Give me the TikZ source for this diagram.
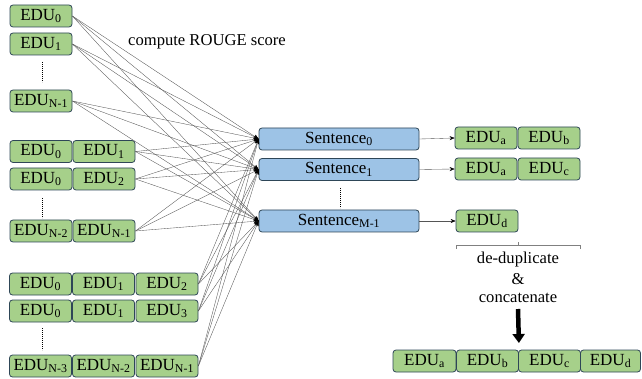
\documentclass[tikz,border=0pt]{standalone}
\usepackage{fontspec}
\setmainfont{Liberation Serif}
\usetikzlibrary{arrows.meta}
\definecolor{edufill}{HTML}{A6D08A}
\definecolor{sentfill}{HTML}{9DC3E6}
\definecolor{boxline}{HTML}{2E4657}
\definecolor{conncol}{HTML}{555555}
\tikzset{
  basebox/.style={draw=boxline, line width=0.8pt, rounded corners=3pt, inner sep=0pt,
    minimum height=22pt, font=\fontsize{17}{17}\selectfont},
  edu/.style={basebox, fill=edufill, minimum width=62pt},
  sent/.style={basebox, fill=sentfill, minimum width=160pt},
  conn/.style={draw=conncol, line width=0.35pt, -{Stealth[length=5pt,width=4pt,black]}},
  vdots/.style={draw=black, line width=0.5pt, dash pattern=on 0.6pt off 1.4pt},
  lbl/.style={font=\fontsize{16.6}{17}\selectfont, inner sep=0pt}
}
\newcommand{\E}[1]{EDU\textsubscript{#1}}
\begin{document}
\begin{tikzpicture}[x=1pt,y=-1pt]
\useasboundingbox (0,0) rectangle (642,379);
% single EDUs
\node[edu] (s0) at (41,16) {\E{0}};
\node[edu] (s1) at (41,44) {\E{1}};
\node[edu] (s2) at (41,101) {\E{N-1}};
\draw[vdots] (42,62) -- (42,82);
% pairs
\node[edu] (p0a) at (41,151.5) {\E{0}};
\node[edu] (p0b) at (104,151.5) {\E{1}};
\node[edu] (p1a) at (41,179) {\E{0}};
\node[edu] (p1b) at (104,179) {\E{2}};
\draw[vdots] (42,198) -- (42,218);
\node[edu] (p2a) at (41,231) {\E{N-2}};
\node[edu] (p2b) at (104,231) {\E{N-1}};
% triples
\node[edu] (t0a) at (40.5,284) {\E{0}};
\node[edu] (t0b) at (103.5,284) {\E{1}};
\node[edu] (t0c) at (167,284) {\E{2}};
\node[edu] (t1a) at (40.5,311) {\E{0}};
\node[edu] (t1b) at (103.5,311) {\E{1}};
\node[edu] (t1c) at (167,311) {\E{3}};
\draw[vdots] (42,328) -- (42,350);
\node[edu] (t2a) at (40.5,366) {\E{N-3}};
\node[edu] (t2b) at (103.5,366) {\E{N-2}};
\node[edu] (t2c) at (167,366) {\E{N-1}};
% label
\node[lbl] (rouge) at (207,42) {compute ROUGE score};
% sentences
\node[sent] (m0) at (339,139) {Sentence\textsubscript{0}};
\node[sent] (m1) at (339,169.5) {Sentence\textsubscript{1}};
\draw[vdots] (340,188) -- (340,208);
\node[sent] (m2) at (339,221) {Sentence\textsubscript{M-1}};
% connectors
\foreach \s in {s0,s1,s2,p0b,p1b,p2b,t0c,t1c,t2c}{
  \foreach \m in {m0,m1,m2}{
    \draw[conn] (\s.east) -- (\m.west);
  }
}
% right side
\node[edu] (r0a) at (486,138) {\E{a}};
\node[edu] (r0b) at (549,138) {\E{b}};
\node[edu] (r1a) at (486,169) {\E{a}};
\node[edu] (r1b) at (549,169) {\E{c}};
\node[edu] (r2a) at (487,221) {\E{d}};
\draw[conn] (m0.east) -- (r0a.west);
\draw[conn] (m1.east) -- (r1a.west);
\draw[conn] (m2.east) -- (r2a.west);
% bracket
\coordinate (bl) at (456,245);
\coordinate (br) at (580,245);
\coordinate (bm) at (518,245);
\draw[draw=gray, line width=0.6pt] ([yshift=-4pt]bl) -- (bl) -- (br) -- ([yshift=-4pt]br);
\draw[draw=gray, line width=0.6pt] (bm) -- ([yshift=3pt]bm);
\node[lbl] (dd) at (518,260) {de-duplicate};
\node[lbl] (amp) at (518,279) {\&};
\node[lbl] (cc) at (518,297.5) {concatenate};
% bottom row
\node[edu, minimum width=63pt] (f0) at (424.5,361) {\E{a}};
\node[edu, minimum width=62pt] (f1) at (487.5,361) {\E{b}};
\node[edu, minimum width=62pt] (f2) at (549.5,361) {\E{c}};
\node[edu, minimum width=60pt] (f3) at (610.5,361) {\E{d}};
\coordinate (arrtop) at (518,309);
\draw[black, line width=4.5pt, -{Triangle[width=12pt,length=9pt]}] (arrtop) -- (f1.north east |- 0,343);
\end{tikzpicture}
\end{document}
